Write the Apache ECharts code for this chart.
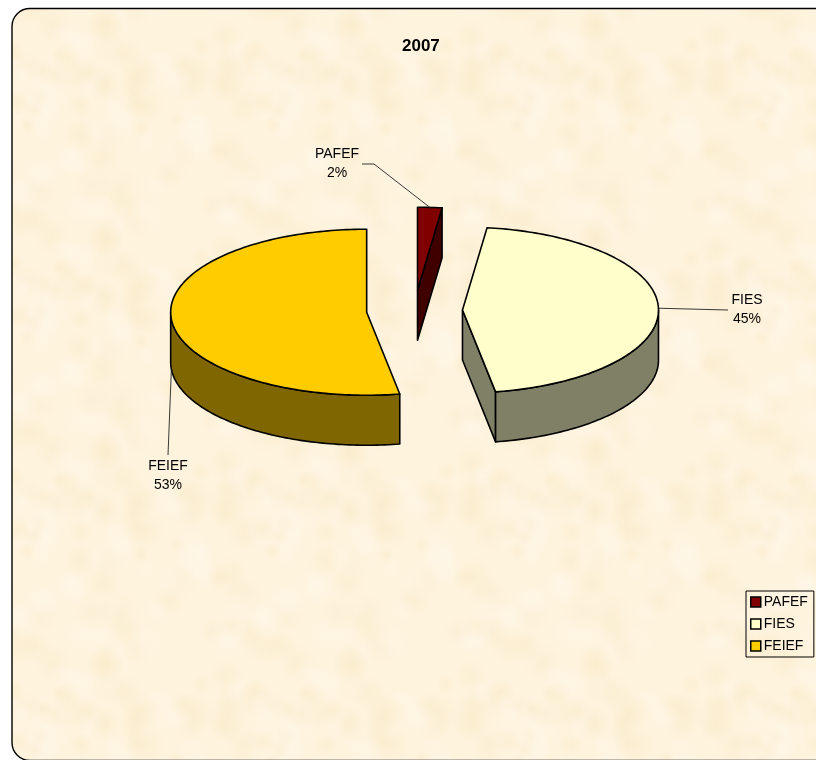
<!DOCTYPE html>
<html>
<head>
<meta charset="utf-8">
<script src="https://cdn.jsdelivr.net/npm/echarts@6/dist/echarts.min.js"></script>
<style>
html, body { margin: 0; padding: 0; background: #fff; overflow: hidden; }
#chart { width: 816px; height: 760px; }
</style>
</head>
<body>
<div id="chart"></div>
<script>
    // 数据
    const titleText = '2007';
    const categories = ['PAFEF', 'FIES', 'FEIEF'];
    const shares = [2, 45.3, 52.7];
    const percentLabels = ['2%', '45%', '53%'];

    // 颜色
    const topColors = ['#800000', '#FFFFCC', '#FFCC00'];
    const wallColors = ['#400000', '#808066', '#806600'];

    // 饼图几何
    const PIE = { cx: 414.5, cy: 310.5, rx: 196, ry: 83, depth: 50, explode: 48 };
    // 标签中心和引线转折
    const LABEL_POS = [[337, 164], [747, 310], [168, 476]];
    const LEADER_END = [[[374, 164], [362, 164]], [[728, 310]], [[168, 455]]];

    const total = shares.reduce(function (a, b) { return a + b; }, 0);

    // 顺时针角度(从正上方算起)对应的椭圆点
    function pointAt(c, angle, dy) {
        return [c[0] + PIE.rx * Math.sin(angle), c[1] - PIE.ry * Math.cos(angle) + (dy || 0)];
    }

    function arcPoints(c, a0, a1, dy) {
        const pts = [];
        const n = Math.max(2, Math.ceil((a1 - a0) / 0.02));
        for (let i = 0; i <= n; i++) {
            pts.push(pointAt(c, a0 + (a1 - a0) * i / n, dy));
        }
        return pts;
    }

    function poly(points, fill) {
        return {
            type: 'polygon',
            shape: { points: points },
            style: { fill: fill, stroke: '#000', lineWidth: 1.6, lineJoin: 'round' }
        };
    }

    function renderSlice(index, api) {
        let startShare = 0;
        for (let i = 0; i < index; i++) startShare += shares[i];
        const a0 = startShare / total * Math.PI * 2;
        const a1 = a0 + api.value(0) / total * Math.PI * 2;
        const mid = (a0 + a1) / 2;
        // 沿中线方向炸开
        const c = [
            PIE.cx + PIE.explode * Math.sin(mid),
            PIE.cy - PIE.explode * PIE.ry / PIE.rx * Math.cos(mid)
        ];
        const children = [];
        const wall = wallColors[index];

        // 切面
        if (Math.sin(a1) > 0.001) {
            const e = pointAt(c, a1);
            children.push(poly([c, e, [e[0], e[1] + PIE.depth], [c[0], c[1] + PIE.depth]], wall));
        }
        if (Math.sin(a0) < -0.001) {
            const s = pointAt(c, a0);
            children.push(poly([c, s, [s[0], s[1] + PIE.depth], [c[0], c[1] + PIE.depth]], wall));
        }
        // 外侧弧面
        const w0 = Math.max(a0, Math.PI / 2);
        const w1 = Math.min(a1, Math.PI * 1.5);
        if (w1 > w0) {
            children.push(poly(arcPoints(c, w0, w1, 0).concat(arcPoints(c, w0, w1, PIE.depth).reverse()), wall));
        }
        // 顶面
        children.push(poly([c].concat(arcPoints(c, a0, a1, 0)), topColors[index]));

        // 引线
        const onWall = Math.cos(mid) < 0;
        const from = pointAt(c, mid, onWall ? PIE.depth : 0);
        children.push({
            type: 'polyline',
            shape: { points: [from].concat(LEADER_END[index]) },
            style: { fill: 'none', stroke: '#222', lineWidth: 0.9 }
        });
        // 标签
        children.push({
            type: 'text',
            style: {
                x: LABEL_POS[index][0],
                y: LABEL_POS[index][1],
                text: categories[index] + '\n' + percentLabels[index],
                fill: '#000',
                font: '14px "Liberation Sans", Arial, sans-serif',
                lineHeight: 19,
                align: 'center',
                verticalAlign: 'middle'
            }
        });
        return { type: 'group', children: children };
    }

    // 羊皮纸底纹(固定的小斑点,只是装饰)
    function makeTexture() {
        const w = 245, h = 213;
        const tile = document.createElement('canvas');
        tile.width = w;
        tile.height = h;
        const ctx = tile.getContext('2d');
        ctx.fillStyle = '#FEF3DD';
        ctx.fillRect(0, 0, w, h);
        function hash(n) {
            const s = Math.sin(n * 12.9898) * 43758.5453;
            return s - Math.floor(s);
        }
        for (let i = 0; i < 110; i++) {
            const x = hash(i + 1) * w;
            const y = hash(i + 201) * h;
            const r = 8 + hash(i + 401) * 14;
            const dark = i % 2 === 0;
            const rgb = dark ? '248,232,196' : '255,247,234';
            [-w, 0, w].forEach(function (ox) {
                [-h, 0, h].forEach(function (oy) {
                    const g = ctx.createRadialGradient(x + ox, y + oy, 0, x + ox, y + oy, r);
                    g.addColorStop(0, 'rgba(' + rgb + ',0.4)');
                    g.addColorStop(1, 'rgba(' + rgb + ',0)');
                    ctx.fillStyle = g;
                    ctx.fillRect(x + ox - r, y + oy - r, r * 2, r * 2);
                });
            });
        }
        return tile;
    }

    const chart = echarts.init(document.getElementById('chart'), null, { renderer: 'canvas' });
    chart.setOption({
        animation: false,
        backgroundColor: '#fff',
        title: {
            text: titleText,
            left: 402,
            top: 38,
            padding: 0,
            textStyle: { fontFamily: '"Liberation Sans", Arial, sans-serif', fontSize: 17, fontWeight: 'bold', color: '#000' }
        },
        legend: {
            data: categories,
            orient: 'vertical',
            left: 746,
            top: 591,
            padding: [4, 6, 4, 4],
            itemGap: 8,
            itemWidth: 10,
            itemHeight: 10,
            itemStyle: { borderColor: '#000', borderWidth: 1.5 },
            borderColor: '#000',
            borderWidth: 1,
            selectedMode: false,
            textStyle: { fontFamily: '"Liberation Sans", Arial, sans-serif', fontSize: 14, color: '#000', padding: [0, 0, 0, -2] },
            icon: 'rect'
        },
        graphic: [{
            type: 'rect',
            z: -10,
            silent: true,
            shape: { x: 12, y: 8.5, width: 840, height: 752, r: 18 },
            style: { fill: { image: makeTexture(), repeat: 'repeat' }, stroke: '#000', lineWidth: 1.4 }
        }],
        series: categories.map(function (name, i) {
            return {
                type: 'custom',
                name: name,
                coordinateSystem: 'none',
                itemStyle: { color: topColors[i] },
                encode: { value: 0 },
                data: [[shares[i]]],
                renderItem: function (params, api) { return renderSlice(i, api); }
            };
        })
    });
    window.addEventListener('resize', function () { chart.resize(); });
</script>
</body>
</html>
